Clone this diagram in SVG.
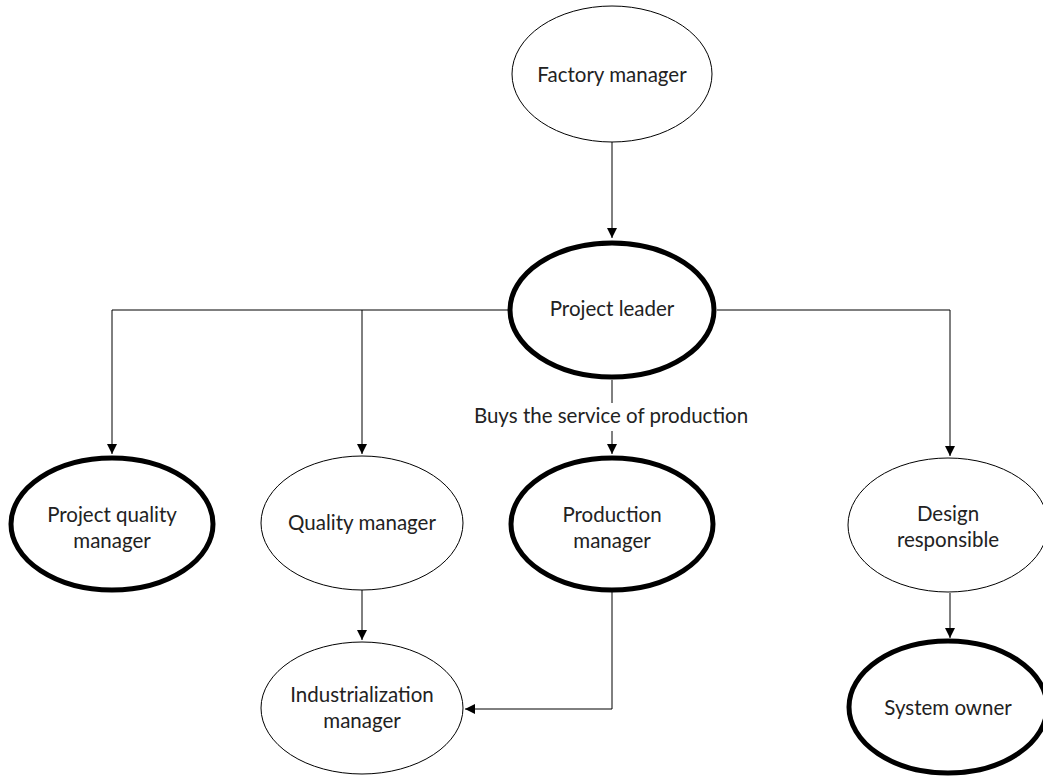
<svg xmlns="http://www.w3.org/2000/svg" width="1043" height="776" viewBox="0 0 1043 776">
  <style>
    .thin { fill: #fff; stroke: #000; stroke-width: 1; }
    .bold { fill: #fff; stroke: #000; stroke-width: 5; }
    .lbl { font-family: Lato, "Open Sans", "Liberation Sans", sans-serif; font-size: 20.5px; fill: #222; text-anchor: middle; }
    .wire { fill: none; stroke: #000; stroke-width: 1; }
  </style>
  <defs>
    <marker id="arrow" viewBox="0 0 10 10" refX="10" refY="5" markerWidth="10" markerHeight="10" markerUnits="userSpaceOnUse" orient="auto">
      <path d="M0,0 L10,5 L0,10 Z" fill="#000"/>
    </marker>
  </defs>

  <rect width="1043" height="776" fill="#fff"/>

  <g id="connectors">
    <line class="wire" x1="612" y1="142" x2="612" y2="238" marker-end="url(#arrow)"/>
    <polyline class="wire" points="508,310 112,310 112,454" marker-end="url(#arrow)"/>
    <line class="wire" x1="362" y1="310" x2="362" y2="454" marker-end="url(#arrow)"/>
    <polyline class="wire" points="717,310 950,310 950,456" marker-end="url(#arrow)"/>
    <line class="wire" x1="612" y1="380" x2="612" y2="403"/>
    <line class="wire" x1="612" y1="431" x2="612" y2="454" marker-end="url(#arrow)"/>
    <text class="lbl" x="611" y="423">Buys the service of production</text>
    <line class="wire" x1="362" y1="590" x2="362" y2="640" marker-end="url(#arrow)"/>
    <polyline class="wire" points="612,590 612,709 465,709" marker-end="url(#arrow)"/>
    <line class="wire" x1="950" y1="593" x2="950" y2="638" marker-end="url(#arrow)"/>
  </g>

  <g id="factory-manager">
    <ellipse class="thin" cx="612" cy="74" rx="100" ry="68"/>
    <text class="lbl" x="612" y="82">Factory manager</text>
  </g>

  <g id="project-leader">
    <ellipse class="bold" cx="612" cy="310" rx="102" ry="67"/>
    <text class="lbl" x="612" y="316">Project leader</text>
  </g>

  <g id="project-quality-manager">
    <ellipse class="bold" cx="112" cy="524" rx="101" ry="66"/>
    <text class="lbl" x="112" y="522">Project quality</text>
    <text class="lbl" x="112" y="548">manager</text>
  </g>

  <g id="quality-manager">
    <ellipse class="thin" cx="362" cy="523" rx="101" ry="67"/>
    <text class="lbl" x="362" y="530">Quality manager</text>
  </g>

  <g id="production-manager">
    <ellipse class="bold" cx="612" cy="524" rx="101" ry="66"/>
    <text class="lbl" x="612" y="522">Production</text>
    <text class="lbl" x="612" y="548">manager</text>
  </g>

  <g id="design-responsible">
    <ellipse class="thin" cx="948" cy="525" rx="100" ry="67"/>
    <text class="lbl" x="948" y="521">Design</text>
    <text class="lbl" x="948" y="547">responsible</text>
  </g>

  <g id="industrialization-manager">
    <ellipse class="thin" cx="362" cy="708" rx="101" ry="66"/>
    <text class="lbl" x="362" y="702">Industrialization</text>
    <text class="lbl" x="362" y="728">manager</text>
  </g>

  <g id="system-owner">
    <ellipse class="bold" cx="948" cy="707" rx="99" ry="66"/>
    <text class="lbl" x="948" y="715">System owner</text>
  </g>
</svg>
